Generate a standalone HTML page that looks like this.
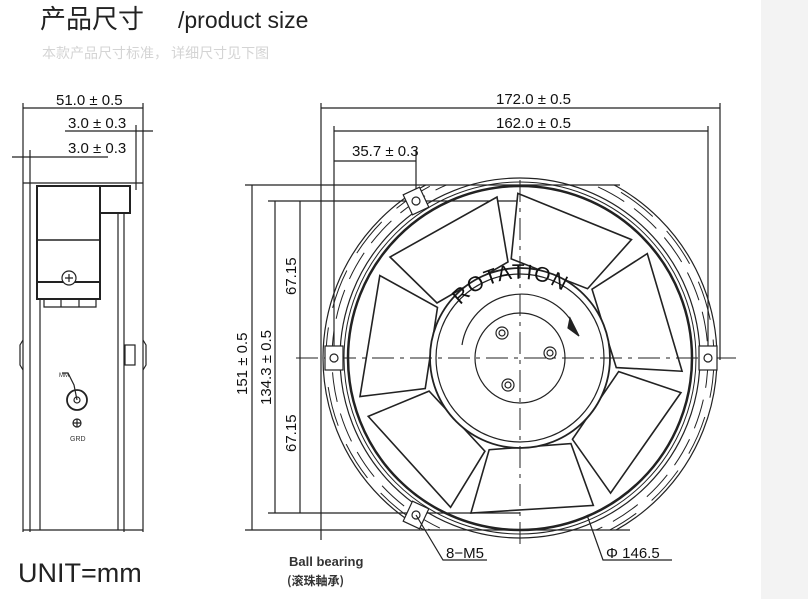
<!DOCTYPE html>
<html><head><meta charset="utf-8"><style>
html,body{margin:0;padding:0;background:#fff;}
body{width:808px;height:599px;overflow:hidden;position:relative;font-family:"Liberation Sans","Noto Sans CJK SC",sans-serif;}
.strip{position:absolute;left:761px;top:0;width:47px;height:599px;background:#f3f3f3;}
svg{position:absolute;left:0;top:0;}
</style></head><body>
<div class="strip"></div>
<svg width="808" height="599" viewBox="0 0 808 599" xmlns="http://www.w3.org/2000/svg" font-family="Liberation Sans, Noto Sans CJK SC, sans-serif">
<defs>
<clipPath id="band"><rect x="300" y="185" width="440" height="345"/></clipPath>
<path id="arc" d="M459 307 A80 80 0 0 1 597 337"/>
</defs>
<text x="40" y="28" font-size="26" fill="#222" font-family="Noto Sans CJK SC, sans-serif">产品尺寸</text>
<text x="178" y="28" font-size="23" fill="#222">/product size</text>
<text x="42" y="58" font-size="14" fill="#d4d4d4" font-family="Noto Sans CJK SC, sans-serif">本款产品尺寸标准，  详细尺寸见下图</text>

<g stroke="#222" fill="none" stroke-width="1.2">
<line x1="23" y1="103" x2="23" y2="532"/><line x1="143" y1="103" x2="143" y2="532"/>
<line x1="23" y1="108" x2="143" y2="108"/>
<line x1="65" y1="131" x2="153" y2="131"/><line x1="136" y1="125" x2="136" y2="190"/>
<line x1="12" y1="157" x2="108" y2="157"/><line x1="30" y1="150" x2="30" y2="532"/>
<line x1="23" y1="183" x2="143" y2="183"/>
<line x1="40" y1="300" x2="40" y2="530"/><line x1="118" y1="212" x2="118" y2="530"/><line x1="124" y1="212" x2="124" y2="532"/>
<line x1="23" y1="530" x2="143" y2="530"/>
<rect x="37" y="186" width="63" height="113" stroke-width="2"/>
<line x1="37" y1="240" x2="100" y2="240" stroke-width="1.6"/>
<line x1="37" y1="282" x2="100" y2="282" stroke-width="2"/>
<rect x="100" y="186" width="30" height="27" stroke-width="2"/>
<circle cx="69" cy="278" r="7" fill="#fff"/><path d="M65 278h8M69 274v8"/>
<path d="M44 299 v8 h52 v-8 M61 299v8 M79 299v8"/>
<rect x="125" y="345" width="10" height="20"/>
<path d="M23 340 l-3 5 v20 l3 5 M143 340 l3 5 v20 l-3 5"/>
<circle cx="77" cy="400" r="10" stroke-width="1.8"/><circle cx="77" cy="400" r="3"/>
<path d="M62 373 h6 l6 12 l3 15"/>
<circle cx="77" cy="423" r="4"/><path d="M73 423h8M77 419v8"/>
</g>
<g font-size="15" fill="#111">
<text x="56" y="105">51.0 ± 0.5</text>
<text x="68" y="128">3.0 ± 0.3</text>
<text x="68" y="153">3.0 ± 0.3</text>
</g>
<text x="59" y="377" font-size="6" fill="#333">MM</text>
<text x="70" y="441" font-size="7" fill="#333">GRD</text>
<text x="18" y="582" font-size="27" fill="#222">UNIT=mm</text>

<g stroke="#222" fill="none" stroke-width="1.2">
<line x1="321" y1="103" x2="321" y2="540"/><line x1="720" y1="103" x2="720" y2="360"/>
<line x1="321" y1="108" x2="720" y2="108"/>
<line x1="334" y1="126" x2="334" y2="360"/><line x1="708" y1="126" x2="708" y2="360"/>
<line x1="334" y1="131" x2="708" y2="131"/>
<line x1="334" y1="161" x2="416" y2="161"/><line x1="416" y1="150" x2="416" y2="200"/>
<line x1="245" y1="185" x2="620" y2="185"/><line x1="245" y1="530" x2="630" y2="530"/>
<line x1="252" y1="185" x2="252" y2="530"/>
<line x1="268" y1="201" x2="520" y2="201"/><line x1="268" y1="513" x2="520" y2="513"/>
<line x1="275" y1="201" x2="275" y2="513"/><line x1="300" y1="201" x2="300" y2="513"/>
<g clip-path="url(#band)">
<circle cx="520" cy="358" r="197"/>
<circle cx="520" cy="358" r="188" stroke-dasharray="30 12" stroke-width="1"/>
</g>
<circle cx="520" cy="358" r="180"/>
<circle cx="520" cy="358" r="176" stroke-width="1"/>
<circle cx="520" cy="358" r="172" stroke-width="2.5"/>
<circle cx="520" cy="358" r="194" stroke-dasharray="40 20" stroke-width="1" clip-path="url(#band)"/>
<g id="b"><polygon points="497,197 508,262 437,303 390,257" stroke-width="1.6" fill="#fff"/></g>
<use href="#b" transform="rotate(51.4 520 358)"/>
<use href="#b" transform="rotate(102.8 520 358)"/>
<use href="#b" transform="rotate(154.3 520 358)"/>
<use href="#b" transform="rotate(205.7 520 358)"/>
<use href="#b" transform="rotate(257.1 520 358)"/>
<use href="#b" transform="rotate(308.6 520 358)"/>
<circle cx="520" cy="358" r="90" fill="#fff" stroke-width="1.8"/>
<circle cx="520" cy="358" r="84"/>
<circle cx="520" cy="358" r="45"/>
<path d="M462 345 A60 60 0 0 1 572 322"/>
<path d="M570 318 l9 18 l-11 -8 z" fill="#222"/>
<circle cx="502" cy="333" r="6"/><circle cx="502" cy="333" r="3"/>
<circle cx="550" cy="353" r="6"/><circle cx="550" cy="353" r="3"/>
<circle cx="508" cy="385" r="6"/><circle cx="508" cy="385" r="3"/>
<line x1="296" y1="358" x2="740" y2="358" stroke-dasharray="22 6 4 6" stroke-width="1"/>
<line x1="520" y1="180" x2="520" y2="545" stroke-dasharray="22 6 4 6" stroke-width="1"/>
<rect x="325" y="346" width="18" height="24" fill="#fff"/><circle cx="334" cy="358" r="4"/>
<rect x="699" y="346" width="18" height="24" fill="#fff"/><circle cx="708" cy="358" r="4"/>
<rect x="407" y="190" width="18" height="22" transform="rotate(-25 416 201)" fill="#fff"/><circle cx="416" cy="201" r="4"/>
<rect x="407" y="504" width="18" height="22" transform="rotate(25 416 515)" fill="#fff"/><circle cx="416" cy="515" r="4"/>
<path d="M416 515 L443 560 L487 560"/>
<path d="M587 515 L603 560 L672 560"/>
</g>
<g font-size="15" fill="#111">
<text x="496" y="104">172.0 ± 0.5</text>
<text x="496" y="128">162.0 ± 0.5</text>
<text x="352" y="156">35.7 ± 0.3</text>
<text x="446" y="558">8−M5</text>
<text x="606" y="558">Φ 146.5</text>
<text transform="translate(247 395) rotate(-90)">151 ± 0.5</text>
<text transform="translate(271 405) rotate(-90)">134.3 ± 0.5</text>
<text transform="translate(296 295) rotate(-90)">67.15</text>
<text transform="translate(296 452) rotate(-90)">67.15</text>
<text font-size="21" letter-spacing="1"><textPath href="#arc" startOffset="2">ROTATION</textPath></text>
</g>
<text x="289" y="566" font-size="13" font-weight="bold" fill="#333">Ball bearing</text>
<text x="287" y="585" font-size="12" font-weight="bold" fill="#333" font-family="Noto Sans CJK SC, sans-serif">(滚珠軸承)</text>
</svg>
</body></html>
